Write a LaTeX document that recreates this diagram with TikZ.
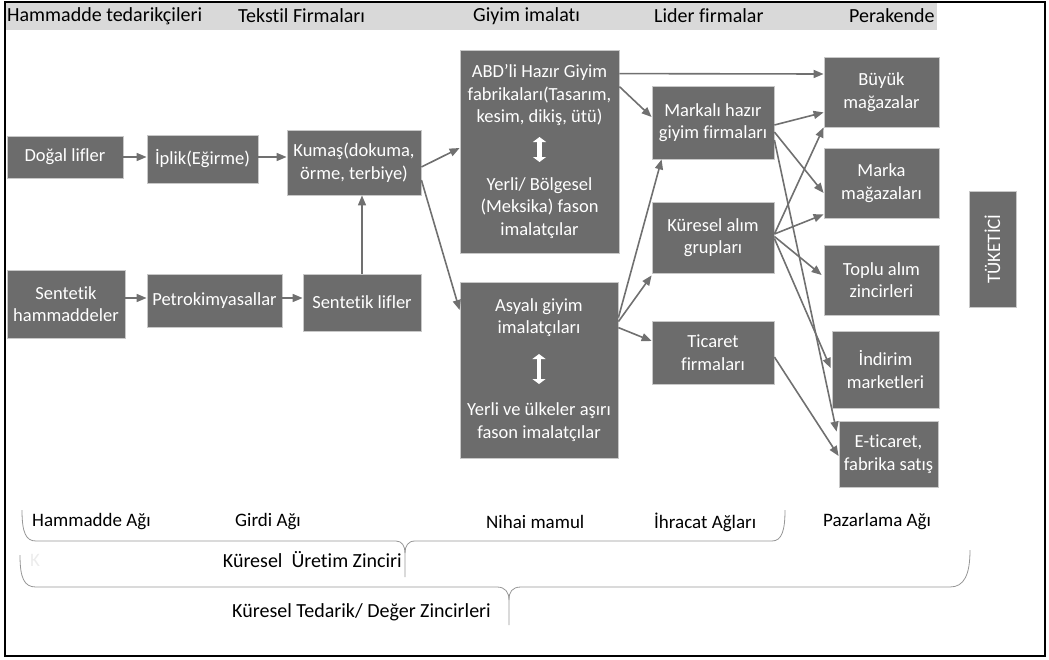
\documentclass[tikz,border=0pt]{standalone}
\usepackage{fontspec}
\setmainfont{Carlito}[Ligatures=NoCommon]
\usetikzlibrary{arrows.meta,calc}
\definecolor{boxgray}{RGB}{108,108,108}
\definecolor{boxline}{RGB}{200,200,200}
\definecolor{arrgray}{RGB}{112,112,112}
\definecolor{bandgray}{RGB}{217,217,217}
\definecolor{bracegray}{RGB}{150,150,150}

\begin{document}
\begin{tikzpicture}[x=1pt,y=-1pt,
  box/.style={rectangle,fill=boxgray,draw=boxline,line width=0.8pt,text=white,align=center,inner sep=0pt,font=\fontsize{18.5}{22.5}\selectfont},
  arr/.style={draw=arrgray,line width=1.6pt,-{Triangle[length=10pt,width=8pt]}},
  dbl/.style={white,line width=4.5pt,{Triangle[length=5pt,width=13pt]}-{Triangle[length=5pt,width=13pt]}},
  head/.style={font=\fontsize{20}{24}\selectfont,anchor=west,inner sep=0pt},
  lbl/.style={font=\fontsize{19}{23}\selectfont,anchor=west,inner sep=0pt},
  brace/.style={draw=bracegray,line width=0.8pt}]
  \useasboundingbox (0,0) rectangle (1049,659);
  \fill[bandgray] (5,2) rectangle (937,30);
  \draw[line width=2pt] (5,2) rectangle (1045,656);

  \node[head] (hham) at (7,16) {Hammadde tedarikçileri};
  \node[head] (htek) at (238,16) {Tekstil Firmaları};
  \node[head] (hgiy) at (473,16) {Giyim imalatı};
  \node[head] (hlid) at (654,16) {Lider firmalar};
  \node[head] (hper) at (849,16) {Perakende};

  \node[box,minimum width=116pt,minimum height=42pt] (dogal) at (65,157) {Doğal lifler};
  \node[box,minimum width=111pt,minimum height=48pt] (iplik) at (202.5,159) {İplik(Eğirme)};
  \node[box,minimum width=134pt,minimum height=65pt] (kumas) at (354,162.5) {Kumaş(dokuma,\\örme, terbiye)};
  \node[box,minimum width=118pt,minimum height=68pt] (sentham) at (66,304) {Sentetik\\hammaddeler};
  \node[box,minimum width=135pt,minimum height=53pt] (petro) at (214.5,300.5) {Petrokimyasallar};
  \node[box,minimum width=118pt,minimum height=57pt] (sentlif) at (362,302.5) {Sentetik lifler};
  \node[box,minimum width=159pt,minimum height=203pt] (abd) at (539.5,151.5) {ABD’li Hazır Giyim\\fabrikaları(Tasarım,\\kesim, dikiş, ütü)\\[45pt]Yerli/ Bölgesel\\(Meksika) fason\\imalatçılar};
  \node[box,minimum width=158pt,minimum height=176pt] (asya) at (539,370) {Asyalı giyim\\imalatçıları\\[59.5pt]Yerli ve ülkeler aşırı\\fason imalatçılar};
  \node[box,minimum width=122pt,minimum height=73pt] (markali) at (713,122.5) {Markalı hazır\\giyim firmaları};
  \node[box,minimum width=122pt,minimum height=71pt] (kuresel) at (713,237.5) {Küresel alım\\grupları};
  \node[box,minimum width=122pt,minimum height=63pt] (ticaret) at (713,352.5) {Ticaret\\firmaları};
  \node[box,minimum width=115pt,minimum height=70pt] (buyuk) at (881.5,92) {Büyük\\mağazalar};
  \node[box,minimum width=115pt,minimum height=70pt] (marka) at (881.5,183) {Marka\\mağazaları};
  \node[box,minimum width=115pt,minimum height=70pt] (toplu) at (881.5,280) {Toplu alım\\zincirleri};
  \node[box,minimum width=107pt,minimum height=77pt] (indirim) at (885.5,369.5) {İndirim\\marketleri};
  \node[box,minimum width=99pt,minimum height=66pt] (eticaret) at (888.5,454) {E-ticaret,\\fabrika satış};
  \node[box,rotate=90,minimum width=116pt,minimum height=47pt,font=\fontsize{19}{23}\selectfont] (tuketici) at (992.5,249) {TÜKETİCİ};

  \draw[dbl] ($(abd.center)+(0,-14.5)$) -- ($(abd.center)+(0,10.5)$);
  \draw[dbl] ($(asya.center)+(0,-16)$) -- ($(asya.center)+(0,14)$);

  \draw[arr] (dogal.east) -- (dogal.east -| iplik.west);
  \draw[arr] (dogal.east -| iplik.east) -- (dogal.east -| kumas.west);
  \draw[arr] ($(sentham.east)+(0,-6)$) -- ($(sentham.east -| petro.west)+(0,-6)$);
  \draw[arr] ($(petro.east)+(0,-2.5)$) -- ($(petro.east -| sentlif.west)+(0,-2.5)$);
  \draw[arr] (sentlif.north) -- (sentlif.north |- kumas.south);
  \draw[arr] ($(kumas.east)+(0,4.5)$) -- ($(abd.west)+(0,-3.5)$);
  \draw[arr] ($(kumas.east)+(0,17.5)$) -- ($(asya.west)+(0,-60)$);
  \draw[arr] ($(abd.north east)+(0,24)$) -- ($(buyuk.west)+(0,-18)$);
  \draw[arr] ($(abd.north east)+(0,37)$) -- ($(markali.west)+(0,-5.5)$);
  \draw[arr] ($(asya.north east)+(0,36)$) -- ($(markali.south west)+(10,0)$);
  \draw[arr] ($(asya.north east)+(0,40)$) -- ($(kuresel.south west)+(0,2)$);
  \draw[arr] ($(asya.north east)+(0,46)$) -- ($(ticaret.west)+(0,-11.5)$);
  \draw[arr] ($(markali.east)+(0,2.5)$) -- ($(buyuk.south west)+(0,-15)$);
  \draw[arr] ($(markali.east)+(0,9.5)$) -- ($(marka.west)+(0,10)$);
  \draw[arr] ($(markali.east)+(0,17.5)$) -- ($(eticaret.north west)+(-2,11)$);
  \draw[arr] ($(kuresel.east)+(0,-3.5)$) -- (buyuk.south west);
  \draw[arr] ($(kuresel.east)+(0,-3.5)$) -- ($(marka.south west)+(0,-4)$);
  \draw[arr] ($(kuresel.east)+(0,-1)$) -- ($(toplu.west)+(-2,-5)$);
  \draw[arr] ($(kuresel.east)+(0,1)$) -- ($(indirim.west)+(-1,-1.5)$);
  \draw[arr] ($(ticaret.east)+(0,4.5)$) -- ($(eticaret.west)+(0,2)$);

  \node[lbl] (lham) at (32,522) {Hammadde Ağı};
  \node[lbl] (lgir) at (235,522) {Girdi Ağı};
  \node[lbl] (lnih) at (486,522) {Nihai mamul};
  \node[lbl] (lihr) at (654,522) {İhracat Ağları};
  \node[lbl] (lpaz) at (823,522) {Pazarlama Ağı};

  \draw[brace] (22,510) .. controls (22,533) and (26,541) .. (36,541) -- (396,541)
    .. controls (402,541) and (405,546) .. (405,553) -- (405,577);
  \draw[brace] (405,553) .. controls (405,546) and (408,541) .. (415,541) -- (772,541)
    .. controls (782,541) and (785,530) .. (785,510);
  \node[head,anchor=east] (luret) at (402,560) {Küresel\ \ Üretim Zinciri};
  \node[lbl,text=gray!15] (lk) at (30,560) {K};

  \draw[brace] (20,555) .. controls (20,578) and (24,587) .. (36,587) -- (497,587)
    .. controls (505,587) and (509,592) .. (509,600) -- (509,625);
  \draw[brace] (509,600) .. controls (509,592) and (512,587) .. (521,587) -- (950,587)
    .. controls (964,587) and (970,575) .. (970,550);
  \node[head,anchor=east] (ltedarik) at (491,612) {Küresel Tedarik/ Değer Zincirleri};
\end{tikzpicture}
\end{document}
